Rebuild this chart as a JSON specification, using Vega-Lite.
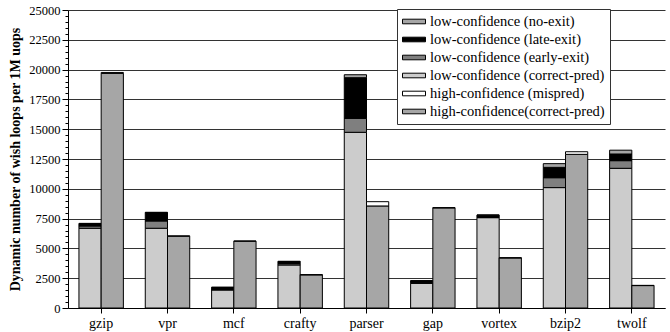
{
  "$schema": "https://vega.github.io/schema/vega-lite/v6.json",
  "width": 597,
  "height": 298,
  "autosize": {"type": "none"},
  "padding": {"left": 68, "top": 10, "right": 5, "bottom": 24},
  "background": "white",
  "config": {
    "view": {"stroke": null},
    "font": "Liberation Serif"
  },
  "data": {
    "values": [
      {"bench": "gzip", "bar": "L", "series": "low-confidence (correct-pred)", "ord": 1, "value": 6690},
      {"bench": "gzip", "bar": "L", "series": "low-confidence (early-exit)", "ord": 2, "value": 190},
      {"bench": "gzip", "bar": "L", "series": "low-confidence (late-exit)", "ord": 3, "value": 190},
      {"bench": "gzip", "bar": "L", "series": "low-confidence (no-exit)", "ord": 4, "value": 30},
      {"bench": "gzip", "bar": "H", "series": "high-confidence(correct-pred)", "ord": 1, "value": 19680},
      {"bench": "gzip", "bar": "H", "series": "high-confidence (mispred)", "ord": 2, "value": 80},

      {"bench": "vpr", "bar": "L", "series": "low-confidence (correct-pred)", "ord": 1, "value": 6690},
      {"bench": "vpr", "bar": "L", "series": "low-confidence (early-exit)", "ord": 2, "value": 610},
      {"bench": "vpr", "bar": "L", "series": "low-confidence (late-exit)", "ord": 3, "value": 700},
      {"bench": "vpr", "bar": "L", "series": "low-confidence (no-exit)", "ord": 4, "value": 30},
      {"bench": "vpr", "bar": "H", "series": "high-confidence(correct-pred)", "ord": 1, "value": 6020},
      {"bench": "vpr", "bar": "H", "series": "high-confidence (mispred)", "ord": 2, "value": 30},

      {"bench": "mcf", "bar": "L", "series": "low-confidence (correct-pred)", "ord": 1, "value": 1510},
      {"bench": "mcf", "bar": "L", "series": "low-confidence (early-exit)", "ord": 2, "value": 40},
      {"bench": "mcf", "bar": "L", "series": "low-confidence (late-exit)", "ord": 3, "value": 180},
      {"bench": "mcf", "bar": "L", "series": "low-confidence (no-exit)", "ord": 4, "value": 10},
      {"bench": "mcf", "bar": "H", "series": "high-confidence(correct-pred)", "ord": 1, "value": 5600},
      {"bench": "mcf", "bar": "H", "series": "high-confidence (mispred)", "ord": 2, "value": 20},

      {"bench": "crafty", "bar": "L", "series": "low-confidence (correct-pred)", "ord": 1, "value": 3610},
      {"bench": "crafty", "bar": "L", "series": "low-confidence (early-exit)", "ord": 2, "value": 110},
      {"bench": "crafty", "bar": "L", "series": "low-confidence (late-exit)", "ord": 3, "value": 180},
      {"bench": "crafty", "bar": "L", "series": "low-confidence (no-exit)", "ord": 4, "value": 20},
      {"bench": "crafty", "bar": "H", "series": "high-confidence(correct-pred)", "ord": 1, "value": 2780},
      {"bench": "crafty", "bar": "H", "series": "high-confidence (mispred)", "ord": 2, "value": 20},

      {"bench": "parser", "bar": "L", "series": "low-confidence (correct-pred)", "ord": 1, "value": 14740},
      {"bench": "parser", "bar": "L", "series": "low-confidence (early-exit)", "ord": 2, "value": 1170},
      {"bench": "parser", "bar": "L", "series": "low-confidence (late-exit)", "ord": 3, "value": 3410},
      {"bench": "parser", "bar": "L", "series": "low-confidence (no-exit)", "ord": 4, "value": 250},
      {"bench": "parser", "bar": "H", "series": "high-confidence(correct-pred)", "ord": 1, "value": 8560},
      {"bench": "parser", "bar": "H", "series": "high-confidence (mispred)", "ord": 2, "value": 360},

      {"bench": "gap", "bar": "L", "series": "low-confidence (correct-pred)", "ord": 1, "value": 2070},
      {"bench": "gap", "bar": "L", "series": "low-confidence (early-exit)", "ord": 2, "value": 40},
      {"bench": "gap", "bar": "L", "series": "low-confidence (late-exit)", "ord": 3, "value": 170},
      {"bench": "gap", "bar": "L", "series": "low-confidence (no-exit)", "ord": 4, "value": 10},
      {"bench": "gap", "bar": "H", "series": "high-confidence(correct-pred)", "ord": 1, "value": 8400},
      {"bench": "gap", "bar": "H", "series": "high-confidence (mispred)", "ord": 2, "value": 20},

      {"bench": "vortex", "bar": "L", "series": "low-confidence (correct-pred)", "ord": 1, "value": 7580},
      {"bench": "vortex", "bar": "L", "series": "low-confidence (early-exit)", "ord": 2, "value": 40},
      {"bench": "vortex", "bar": "L", "series": "low-confidence (late-exit)", "ord": 3, "value": 170},
      {"bench": "vortex", "bar": "L", "series": "low-confidence (no-exit)", "ord": 4, "value": 10},
      {"bench": "vortex", "bar": "H", "series": "high-confidence(correct-pred)", "ord": 1, "value": 4200},
      {"bench": "vortex", "bar": "H", "series": "high-confidence (mispred)", "ord": 2, "value": 20},

      {"bench": "bzip2", "bar": "L", "series": "low-confidence (correct-pred)", "ord": 1, "value": 10100},
      {"bench": "bzip2", "bar": "L", "series": "low-confidence (early-exit)", "ord": 2, "value": 830},
      {"bench": "bzip2", "bar": "L", "series": "low-confidence (late-exit)", "ord": 3, "value": 870},
      {"bench": "bzip2", "bar": "L", "series": "low-confidence (no-exit)", "ord": 4, "value": 310},
      {"bench": "bzip2", "bar": "H", "series": "high-confidence(correct-pred)", "ord": 1, "value": 12890},
      {"bench": "bzip2", "bar": "H", "series": "high-confidence (mispred)", "ord": 2, "value": 220},

      {"bench": "twolf", "bar": "L", "series": "low-confidence (correct-pred)", "ord": 1, "value": 11720},
      {"bench": "twolf", "bar": "L", "series": "low-confidence (early-exit)", "ord": 2, "value": 640},
      {"bench": "twolf", "bar": "L", "series": "low-confidence (late-exit)", "ord": 3, "value": 560},
      {"bench": "twolf", "bar": "L", "series": "low-confidence (no-exit)", "ord": 4, "value": 320},
      {"bench": "twolf", "bar": "H", "series": "high-confidence(correct-pred)", "ord": 1, "value": 1880},
      {"bench": "twolf", "bar": "H", "series": "high-confidence (mispred)", "ord": 2, "value": 20}
    ]
  },
  "mark": {"type": "bar", "stroke": "black", "strokeWidth": 1},
  "encoding": {
    "x": {
      "field": "bench",
      "type": "nominal",
      "sort": ["gzip", "vpr", "mcf", "crafty", "parser", "gap", "vortex", "bzip2", "twolf"],
      "scale": {"paddingInner": 0.33, "paddingOuter": 0.165},
      "axis": {
        "title": null,
        "labelAngle": 0,
        "labelFontSize": 14,
        "labelColor": "black",
        "labelPadding": 3,
        "domainColor": "black",
        "tickColor": "black",
        "tickSize": 5,
        "grid": false
      }
    },
    "xOffset": {
      "field": "bar",
      "type": "nominal",
      "sort": ["L", "H"],
      "scale": {"paddingInner": 0, "paddingOuter": 0}
    },
    "y": {
      "field": "value",
      "type": "quantitative",
      "aggregate": "sum",
      "stack": "zero",
      "scale": {"domain": [0, 25000], "nice": false},
      "axis": {
        "title": "Dynamic number of wish loops per 1M uops",
        "titleFontSize": 14,
        "titleFontWeight": "bold",
        "titleColor": "black",
        "titlePadding": 6,
        "values": [0, 500, 1000, 1500, 2000, 2500, 3000, 3500, 4000, 4500, 5000, 5500, 6000, 6500, 7000, 7500, 8000, 8500, 9000, 9500, 10000, 10500, 11000, 11500, 12000, 12500, 13000, 13500, 14000, 14500, 15000, 15500, 16000, 16500, 17000, 17500, 18000, 18500, 19000, 19500, 20000, 20500, 21000, 21500, 22000, 22500, 23000, 23500, 24000, 24500, 25000],
        "labelExpr": "datum.value % 2500 === 0 ? datum.label : ''",
        "labelFontSize": 12.5,
        "labelColor": "black",
        "labelPadding": 2,
        "domainColor": "black",
        "tickColor": "black",
        "tickSize": {"condition": {"test": "datum.value % 2500 === 0", "value": 6}, "value": 3},
        "grid": true,
        "gridColor": "#333333",
        "gridWidth": 1,
        "gridOpacity": {"condition": {"test": "datum.value % 2500 === 0", "value": 1}, "value": 0},
        "format": "d"
      }
    },
    "order": {"field": "ord", "type": "quantitative", "sort": "ascending"},
    "color": {
      "field": "series",
      "type": "nominal",
      "scale": {
        "domain": ["low-confidence (no-exit)", "low-confidence (late-exit)", "low-confidence (early-exit)", "low-confidence (correct-pred)", "high-confidence (mispred)", "high-confidence(correct-pred)"],
        "range": ["#a6a6a6", "#000000", "#7f7f7f", "#cccccc", "#ffffff", "#a6a6a6"]
      },
      "legend": {
        "title": null,
        "orient": "none",
        "legendX": 329,
        "legendY": -1,
        "fillColor": "white",
        "strokeColor": "#333333",
        "padding": 5,
        "labelFontSize": 14.5,
        "labelColor": "black",
        "labelLimit": 300,
        "labelOffset": 4,
        "symbolType": "M-1,-0.2H1V0.2H-1Z",
        "symbolSize": 529,
        "symbolStrokeColor": "black",
        "symbolStrokeWidth": 1,
        "symbolOpacity": 1,
        "clipHeight": 15,
        "rowPadding": 2
      }
    }
  }
}
